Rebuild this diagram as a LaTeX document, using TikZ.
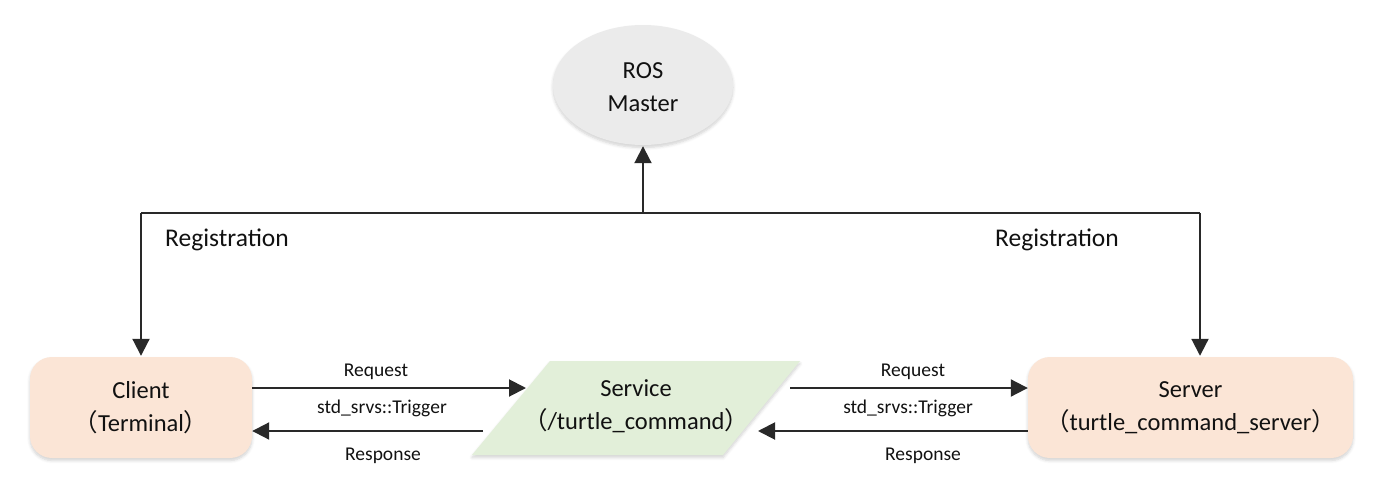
\documentclass[tikz,border=0pt]{standalone}
\usepackage{fontspec}
\setmainfont{Carlito}
\newfontfamily\cjk{Noto Sans CJK SC}
\usetikzlibrary{arrows.meta,shapes.geometric,shadows.blur}
\definecolor{peach}{HTML}{FBE5D6}
\definecolor{mint}{HTML}{E2EFD9}
\definecolor{greyfill}{HTML}{EBEBEB}
\definecolor{ink}{HTML}{111111}
\newcommand{\lp}{{\cjk （}}
\newcommand{\rp}{{\cjk ）}}
\begin{document}
\begin{tikzpicture}[x=1pt,y=-1pt,
  ln/.style={draw=ink!90, line width=2pt},
  arr/.style={ln, -{Triangle[length=17pt,width=17pt]}},
  maintext/.style={font=\fontsize{24.5}{33}\selectfont, text=ink, align=center},
  small/.style={font=\fontsize{19.5}{23}\selectfont, text=ink},
  soft/.style={blur shadow={shadow xshift=0pt, shadow yshift=-2.5pt, shadow blur radius=3pt, shadow opacity=18, shadow blur steps=6}},
  box/.style={maintext, rounded corners=22pt, fill=peach, soft, minimum height=101pt}
]
\useasboundingbox (0,0) rectangle (1399,503);

% ROS Master
\node[ellipse, fill=greyfill, soft, minimum width=180pt, minimum height=120pt, inner sep=0pt] (master) at (643,85) {};
\node[maintext] (mtext) at (643,87) {ROS\\Master};

% Client and Server
\node[box, minimum width=222pt] (client) at (141,407.5) {Client\\\lp Terminal\rp};
\node[box, minimum width=325pt] (server) at (1190.5,407.5) {Server\\\lp turtle\_command\_server\rp};

% Service parallelogram
\fill[mint, soft] (550,361) -- (800,361) -- (723,455) -- (472,455) -- cycle;
\node[maintext] (serv) at (636,406.5) {Service\\\lp /turtle\_command\rp};

% Registration connectors
\coordinate (lj) at (141,213);
\coordinate (mj) at (643,213);
\coordinate (rj) at (1200,213);
\draw[ln] (lj) -- (rj);
\draw[arr] (mj) -- ([yshift=-1pt]master.south);
\draw[arr] (lj) -- ([yshift=1pt]client.north);
\draw[arr] (rj) -- ([yshift=1pt]rj |- server.north);
\node[maintext, font=\fontsize{25.5}{30}\selectfont] (reg1) at (227,240) {Registration};
\node[maintext, font=\fontsize{25.5}{30}\selectfont] (reg2) at (1057,240) {Registration};

% Request / Response left
\coordinate (s1in) at (526,388);
\coordinate (s1out) at (483,431);
\draw[arr] (client.east |- s1in) -- (s1in);
\draw[arr] (s1out) -- (client.east |- s1out);
\node[small] (rq1) at (376,372) {Request};
\node[small] (tr1) at (382,408) {std\_srvs::Trigger};
\node[small] (rs1) at (383,456) {Response};

% Request / Response right
\coordinate (s2out) at (790,388);
\coordinate (s2in) at (758,431);
\draw[arr] (s2out) -- (server.west |- s2out);
\draw[arr] (server.west |- s2in) -- (s2in);
\node[small] (rq2) at (913,372) {Request};
\node[small] (tr2) at (908,408) {std\_srvs::Trigger};
\node[small] (rs2) at (923,456) {Response};
\end{tikzpicture}
\end{document}
